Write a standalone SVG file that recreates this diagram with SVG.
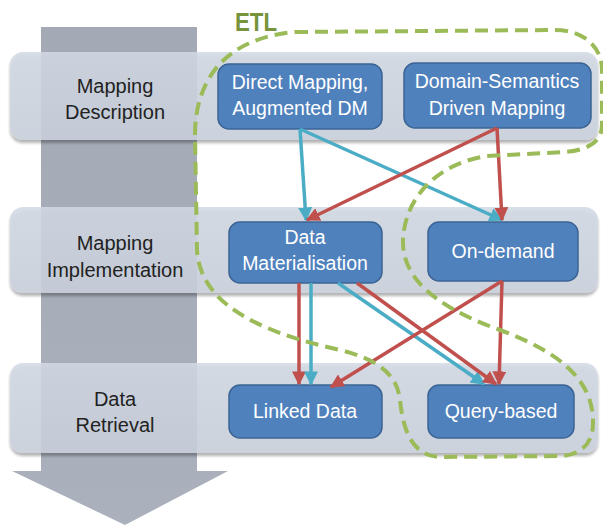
<svg xmlns="http://www.w3.org/2000/svg" width="603" height="527" viewBox="0 0 603 527">
<defs>
<linearGradient id="gArrow" x1="0" y1="0" x2="0" y2="1">
<stop offset="0" stop-color="#a3aab5"/>
<stop offset="1" stop-color="#aab1bc"/>
</linearGradient>
<linearGradient id="gBand" x1="0" y1="0" x2="0" y2="1">
<stop offset="0" stop-color="#d3dae5"/>
<stop offset="1" stop-color="#cbd2de"/>
</linearGradient>
<filter id="sh" x="-5%" y="-10%" width="110%" height="130%">
<feGaussianBlur in="SourceAlpha" stdDeviation="1.5"/>
<feOffset dx="0" dy="2.5" result="b"/>
<feComponentTransfer><feFuncA type="linear" slope="0.35"/></feComponentTransfer>
<feMerge><feMergeNode/><feMergeNode in="SourceGraphic"/></feMerge>
</filter>
<marker id="mTeal" viewBox="0 0 10 10" refX="9" refY="5" markerWidth="4" markerHeight="4" orient="auto" markerUnits="strokeWidth">
<path d="M0,0 L10,5 L0,10 Z" fill="#4bacc6"/>
</marker>
<marker id="mRed" viewBox="0 0 10 10" refX="9" refY="5" markerWidth="4" markerHeight="4" orient="auto" markerUnits="strokeWidth">
<path d="M0,0 L10,5 L0,10 Z" fill="#c0504d"/>
</marker>
</defs>
<style>
.band{fill:url(#gBand);fill-opacity:0.86;filter:url(#sh)}
.lbl{font-family:"Liberation Sans",Arial,sans-serif;font-size:20px;fill:#222;text-anchor:middle}
.node rect{fill:#4f81bd;stroke:#3b6494;stroke-width:1.5}
.node text{font-family:"Liberation Sans",Arial,sans-serif;font-size:19.5px;fill:#ffffff;text-anchor:middle}
.teal{stroke:#4bacc6;stroke-width:3.5;fill:none;marker-end:url(#mTeal)}
.red{stroke:#c0504d;stroke-width:3.5;fill:none;marker-end:url(#mRed)}
.etl{fill:none;stroke:#9bbb59;stroke-width:4;stroke-dasharray:13 7}
</style>
<rect width="603" height="527" fill="#ffffff"/>
<g id="flow-arrow">
<path d="M41,27 L197,27 L197,471 L228,471 L125,525 L12,471 L41,471 Z" fill="url(#gArrow)"/>
</g>
<g id="bands">
<g id="band-description">
<rect class="band" x="10" y="52" width="588" height="88" rx="13"/>
<text class="lbl" x="115" y="93">Mapping</text>
<text class="lbl" x="115" y="119">Description</text>
</g>
<g id="band-implementation">
<rect class="band" x="10" y="207" width="588" height="86" rx="13"/>
<text class="lbl" x="115" y="250">Mapping</text>
<text class="lbl" x="115" y="277">Implementation</text>
</g>
<g id="band-retrieval">
<rect class="band" x="10" y="363" width="588" height="90" rx="13"/>
<text class="lbl" x="115" y="406">Data</text>
<text class="lbl" x="115" y="432">Retrieval</text>
</g>
</g>
<g id="node-direct" class="node">
<rect x="218" y="64" width="164" height="65" rx="11"/>
<text x="300" y="89">Direct Mapping,</text>
<text x="300" y="115">Augmented DM</text>
</g>
<g id="node-domain" class="node">
<rect x="404" y="63" width="187" height="65" rx="11"/>
<text x="497" y="88">Domain-Semantics</text>
<text x="497" y="115">Driven Mapping</text>
</g>
<g id="node-materialisation" class="node">
<rect x="229" y="222" width="153" height="61" rx="11"/>
<text x="305" y="244">Data</text>
<text x="305" y="270">Materialisation</text>
</g>
<g id="node-ondemand" class="node">
<rect x="428" y="222" width="150" height="59" rx="11"/>
<text x="503" y="258">On-demand</text>
</g>
<g id="node-linked" class="node">
<rect x="229" y="385" width="153" height="53" rx="11"/>
<text x="305" y="418">Linked Data</text>
</g>
<g id="node-query" class="node">
<rect x="428" y="385" width="146" height="53" rx="11"/>
<text x="501" y="418">Query-based</text>
</g>
<g id="connectors">
<line class="teal" x1="300" y1="129" x2="306" y2="220"/>
<line class="teal" x1="300" y1="129" x2="502" y2="220"/>
<line class="red" x1="497" y1="128" x2="307" y2="220"/>
<line class="red" x1="497" y1="128" x2="502" y2="220"/>
<line class="red" x1="299" y1="283" x2="299" y2="384"/>
<line class="teal" x1="311" y1="283" x2="311" y2="384"/>
<line class="teal" x1="338" y1="283" x2="484" y2="384"/>
<line class="red" x1="357" y1="283" x2="496" y2="384"/>
<line class="red" x1="502" y1="281" x2="499" y2="384"/>
<line class="red" x1="502" y1="281" x2="331" y2="387"/>
</g>
<g id="etl-boundary">
<path class="etl" d="M295,32 L555,30 C585,30 602,48 602,70 L602,125 C602,142 588,150 565,152 L487,156 C440,163 405,195 403,240 C402,275 430,305 500,330 C560,352 592,380 593,420 C594,445 580,455 560,456 L440,457 C412,456 403,430 400,400 C397,375 380,360 340,350 C250,330 200,300 197,250 L195,135 C195,80 225,38 295,32 Z"/>
<text x="235" y="31" font-family="'Liberation Sans',Arial,sans-serif" font-size="25" font-weight="bold" fill="#77933c" textLength="42" lengthAdjust="spacingAndGlyphs">ETL</text>
</g>
</svg>
